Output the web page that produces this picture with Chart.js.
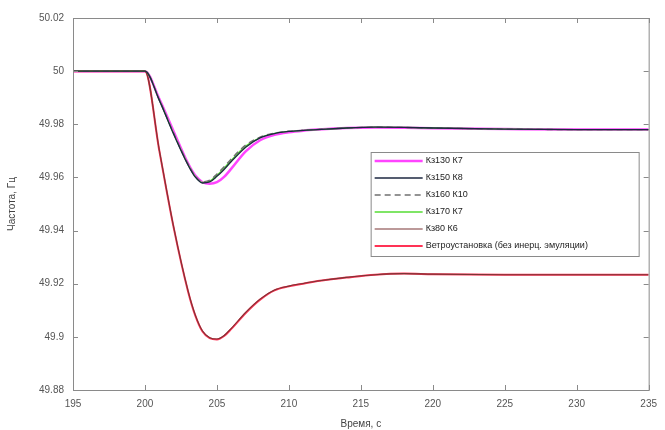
<!DOCTYPE html>
<html>
<head>
<meta charset="utf-8">
<script src="https://cdn.jsdelivr.net/npm/chart.js@4.4.1/dist/chart.umd.min.js"></script>
<style>
  html, body { margin: 0; padding: 0; background: #fff; }
  #wrap { width: 665px; height: 430px; }
</style>
</head>
<body>
<div id="wrap"><canvas id="freqChart"></canvas></div>
<script>
// time samples, s
const times = [195, 200, 201, 202, 203, 203.5, 204, 204.5, 205, 205.5, 206, 207, 208, 209, 210, 211, 212, 214, 216, 218, 220, 225, 230, 235];

// frequency, Hz
const kz130k7 = [50, 50, 49.9895, 49.9772, 49.9652, 49.9607, 49.9582, 49.9576, 49.9582, 49.9602, 49.9633, 49.9698, 49.9740, 49.9760, 49.9770, 49.9776, 49.9780, 49.9786, 49.9788, 49.9787, 49.9785, 49.9782, 49.9780, 49.9780];
const kz150k8 = [50, 50, 49.9890, 49.9762, 49.9646, 49.9601, 49.9579, 49.9583, 49.9604, 49.9630, 49.9660, 49.9714, 49.9749, 49.9765, 49.9773, 49.9777, 49.9780, 49.9786, 49.9789, 49.9788, 49.9786, 49.9782, 49.9780, 49.9780];
const kz160k10 = [50, 50, 49.9892, 49.9766, 49.9650, 49.9605, 49.9584, 49.9590, 49.9613, 49.9640, 49.9670, 49.9722, 49.9752, 49.9767, 49.9774, 49.9778, 49.9781, 49.9786, 49.9789, 49.9788, 49.9786, 49.9782, 49.9780, 49.9780];
const kz170k7 = [50, 50, 49.9891, 49.9764, 49.9648, 49.9603, 49.9581, 49.9586, 49.9608, 49.9635, 49.9665, 49.9718, 49.9750, 49.9766, 49.9773, 49.9777, 49.9780, 49.9786, 49.9789, 49.9788, 49.9786, 49.9782, 49.9780, 49.9780];
const kz80k6 = [50, 50, 49.9702, 49.9412, 49.9172, 49.9082, 49.9022, 49.8997, 49.8992, 49.9005, 49.9032, 49.9092, 49.9142, 49.9176, 49.9191, 49.9201, 49.9210, 49.9224, 49.9234, 49.9238, 49.9236, 49.9234, 49.9234, 49.9234];
const noEmulation = [50, 50, 49.9700, 49.9410, 49.9170, 49.9080, 49.9020, 49.8995, 49.8990, 49.9003, 49.9030, 49.9090, 49.9140, 49.9175, 49.9190, 49.9200, 49.9210, 49.9223, 49.9234, 49.9238, 49.9236, 49.9234, 49.9234, 49.9234];

const xTicks = [195, 200, 205, 210, 215, 220, 225, 230, 235];
const yTicks = [49.88, 49.9, 49.92, 49.94, 49.96, 49.98, 50, 50.02];

function toPoints(values) {
    return values.map((v, i) => ({ x: times[i], y: v }));
}

function makeDataset(label, values, color, width, dash, order) {
    return {
        label: label,
        data: toPoints(values),
        borderColor: color,
        backgroundColor: color,
        borderWidth: width,
        borderDash: dash || [],
        pointRadius: 0,
        cubicInterpolationMode: 'monotone',
        fill: false,
        order: order
    };
}

// Frame with inward ticks on all four sides (matlab-like box)
const framePlugin = {
    id: 'frame',
    afterDatasetsDraw(chart) {
        const ctx = chart.ctx;
        const a = chart.chartArea;
        const xs = chart.scales.x, ys = chart.scales.y;
        ctx.save();
        ctx.strokeStyle = '#8a8a8a';
        ctx.lineWidth = 1;
        ctx.strokeRect(a.left + 0.5, a.top + 0.5, a.right - a.left, a.bottom - a.top);
        ctx.beginPath();
        xTicks.forEach(t => {
            const px = Math.round(xs.getPixelForValue(t)) + 0.5;
            ctx.moveTo(px, a.bottom); ctx.lineTo(px, a.bottom - 5);
            ctx.moveTo(px, a.top); ctx.lineTo(px, a.top + 5);
        });
        yTicks.forEach(t => {
            const py = Math.round(ys.getPixelForValue(t)) + 0.5;
            ctx.moveTo(a.left, py); ctx.lineTo(a.left + 5, py);
            ctx.moveTo(a.right, py); ctx.lineTo(a.right - 5, py);
        });
        ctx.stroke();
        ctx.restore();
    }
};

// Legend box drawn inside the plot area
const insideLegend = {
    id: 'insideLegend',
    afterDraw(chart) {
        const ctx = chart.ctx;
        const a = chart.chartArea;
        const x0 = a.right - 278, y0 = a.top + 134;
        const w = 268, h = 104;
        ctx.save();
        ctx.fillStyle = '#ffffff';
        ctx.fillRect(x0, y0, w, h);
        ctx.strokeStyle = '#8a8a8a';
        ctx.lineWidth = 1;
        ctx.strokeRect(x0 + 0.5, y0 + 0.5, w, h);
        ctx.font = '9px "Liberation Sans", Arial, sans-serif';
        ctx.textBaseline = 'middle';
        chart.data.datasets.forEach((ds, i) => {
            const y = y0 + 9 + i * 17;
            ctx.beginPath();
            ctx.strokeStyle = ds.borderColor;
            ctx.lineWidth = ds.borderWidth;
            ctx.setLineDash(ds.borderDash);
            ctx.moveTo(x0 + 4, y);
            ctx.lineTo(x0 + 52, y);
            ctx.stroke();
            ctx.setLineDash([]);
            ctx.fillStyle = '#222';
            ctx.fillText(ds.label, x0 + 55, y);
        });
        ctx.restore();
    }
};

const ctx = document.getElementById('freqChart').getContext('2d');
new Chart(ctx, {
    type: 'line',
    data: {
        datasets: [
            makeDataset('Кз130 К7', kz130k7, '#ff44ff', 2.5, null, 6),
            makeDataset('Кз150 К8', kz150k8, '#1c2740', 1.3, null, 1),
            makeDataset('Кз160 К10', kz160k10, '#707070', 1.3, [6, 4], 2),
            makeDataset('Кз170 К7', kz170k7, '#55dd33', 1.3, null, 3),
            makeDataset('Кз80 К6', kz80k6, '#7a3535', 1.1, null, 4),
            makeDataset('Ветроустановка (без инерц. эмуляции)', noEmulation, '#ff3355', 2, null, 5)
        ]
    },
    options: {
        responsive: true,
        maintainAspectRatio: false,
        animation: false,
        layout: { padding: { top: 18, right: 10, left: 6, bottom: 0 } },
        plugins: {
            legend: { display: false },
            tooltip: { enabled: false }
        },
        scales: {
            x: {
                type: 'linear',
                min: 195,
                max: 235,
                afterBuildTicks: scale => { scale.ticks = xTicks.map(v => ({ value: v })); },
                afterFit: scale => { scale.height = 40; },
                grid: { display: false, drawTicks: false },
                border: { display: false },
                ticks: {
                    padding: 8,
                    color: '#555',
                    font: { family: '"Liberation Sans", Arial, sans-serif', size: 10 },
                    maxRotation: 0
                },
                title: {
                    display: true,
                    text: 'Время, с',
                    color: '#444',
                    font: { family: '"Liberation Sans", Arial, sans-serif', size: 10 },
                    padding: { top: 2, bottom: 0 }
                }
            },
            y: {
                min: 49.88,
                max: 50.02,
                afterBuildTicks: scale => { scale.ticks = yTicks.map(v => ({ value: v })); },
                afterFit: scale => { scale.width = 67; },
                grid: { display: false, drawTicks: false },
                border: { display: false },
                ticks: {
                    padding: 9,
                    color: '#555',
                    font: { family: '"Liberation Sans", Arial, sans-serif', size: 10 },
                    callback: v => String(parseFloat(v.toFixed(2)))
                },
                title: {
                    display: true,
                    text: 'Частота, Гц',
                    color: '#444',
                    font: { family: '"Liberation Sans", Arial, sans-serif', size: 10 },
                    padding: { top: 0, bottom: 4 }
                }
            }
        }
    },
    plugins: [framePlugin, insideLegend]
});
</script>
</body>
</html>
